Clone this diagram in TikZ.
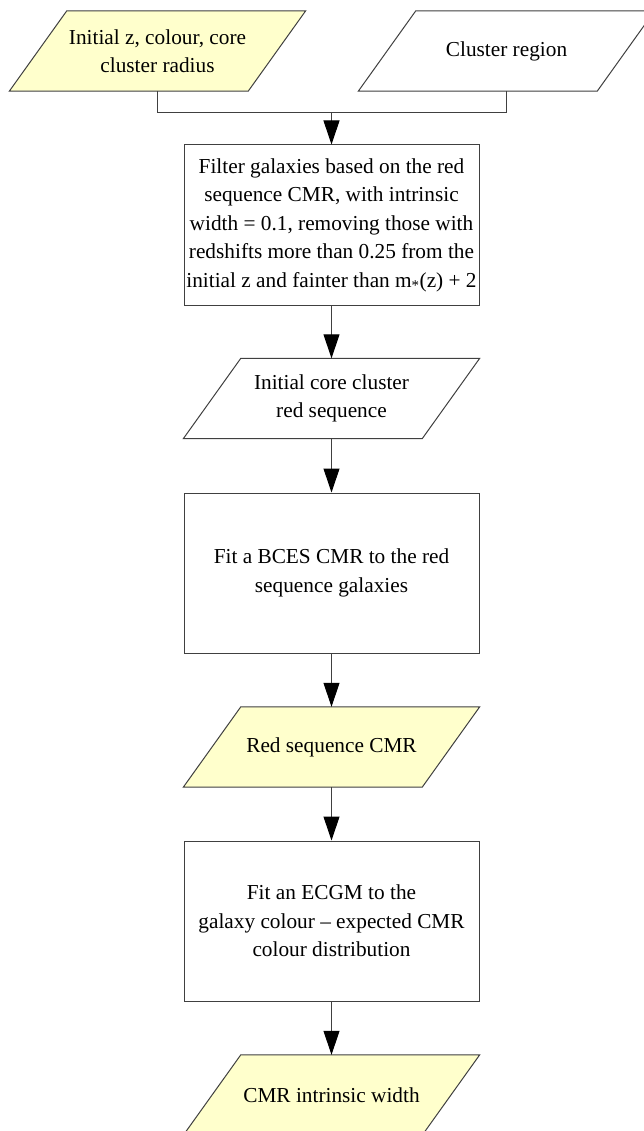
\documentclass[tikz,border=0pt]{standalone}
\usepackage{fontspec}
\setmainfont{Liberation Serif}
\usetikzlibrary{arrows.meta,calc,backgrounds}
\definecolor{paleyellow}{RGB}{255,255,204}
\definecolor{linegray}{RGB}{64,64,64}
\tikzset{
  txt/.style={align=center, font=\fontsize{21.3}{28.5}\selectfont, inner sep=0pt},
  procbox/.style={txt, draw=linegray, line width=1pt, minimum width=295pt},
  paranode/.style={txt, minimum width=296pt, minimum height=80pt},
  paraline/.style={draw=linegray, line width=1pt, line join=miter},
  conn/.style={draw=linegray, line width=1pt},
  flow/.style={conn, -{Triangle[length=24pt,width=16pt,fill=black,color=black]}}
}
\newcommand{\parashape}[2]{%
  \begin{scope}[on background layer]
  \path[paraline,fill=#2] ($(#1.north west)+(57.5pt,0)$) -- (#1.north east)
    -- ($(#1.south east)-(57.5pt,0)$) -- (#1.south west) -- cycle;
  \end{scope}}
\begin{document}
\begin{tikzpicture}[x=1pt,y=-1pt]
\useasboundingbox (0,0) rectangle (643,1131);
\clip (0,0) rectangle (643,1131);
% inputs
\node[paranode] (p1) at (157.5,51) {Initial z, colour, core\\cluster radius};
\parashape{p1}{paleyellow}
\node[paranode] (p2) at (506.5,51) {Cluster region};
\parashape{p2}{white}
% filter
\node[procbox, minimum height=160pt] (f) at (331.5,225) {Filter galaxies based on the red\\sequence CMR, with intrinsic\\width = 0.1, removing those with\\redshifts more than 0.25 from the\\initial z and fainter than m\textsubscript{*}(z) + 2};
\node[paranode] (p3) at (331.5,398.5) {Initial core cluster\\red sequence};
\parashape{p3}{white}
\node[procbox, minimum height=160pt] (b3) at (331.5,573) {Fit a BCES CMR to the red\\sequence galaxies};
\node[paranode] (p4) at (331.5,747) {Red sequence CMR};
\parashape{p4}{paleyellow}
\node[procbox, minimum height=160pt] (b4) at (331.5,921) {Fit an ECGM to the\\galaxy colour -- expected CMR\\colour distribution};
\node[paranode] (p5) at (331.5,1095) {CMR intrinsic width};
\parashape{p5}{paleyellow}
% connectors
\coordinate (j) at (331.5,113);
\draw[conn] (p1.south) |- (j);
\draw[conn] (p2.south) |- (j);
\draw[flow] (j) -- (f.north);
\draw[flow] (f.south) -- (p3.north);
\draw[flow] (p3.south) -- (b3.north);
\draw[flow] (b3.south) -- (p4.north);
\draw[flow] (p4.south) -- (b4.north);
\draw[flow] (b4.south) -- (p5.north);
\end{tikzpicture}
\end{document}
